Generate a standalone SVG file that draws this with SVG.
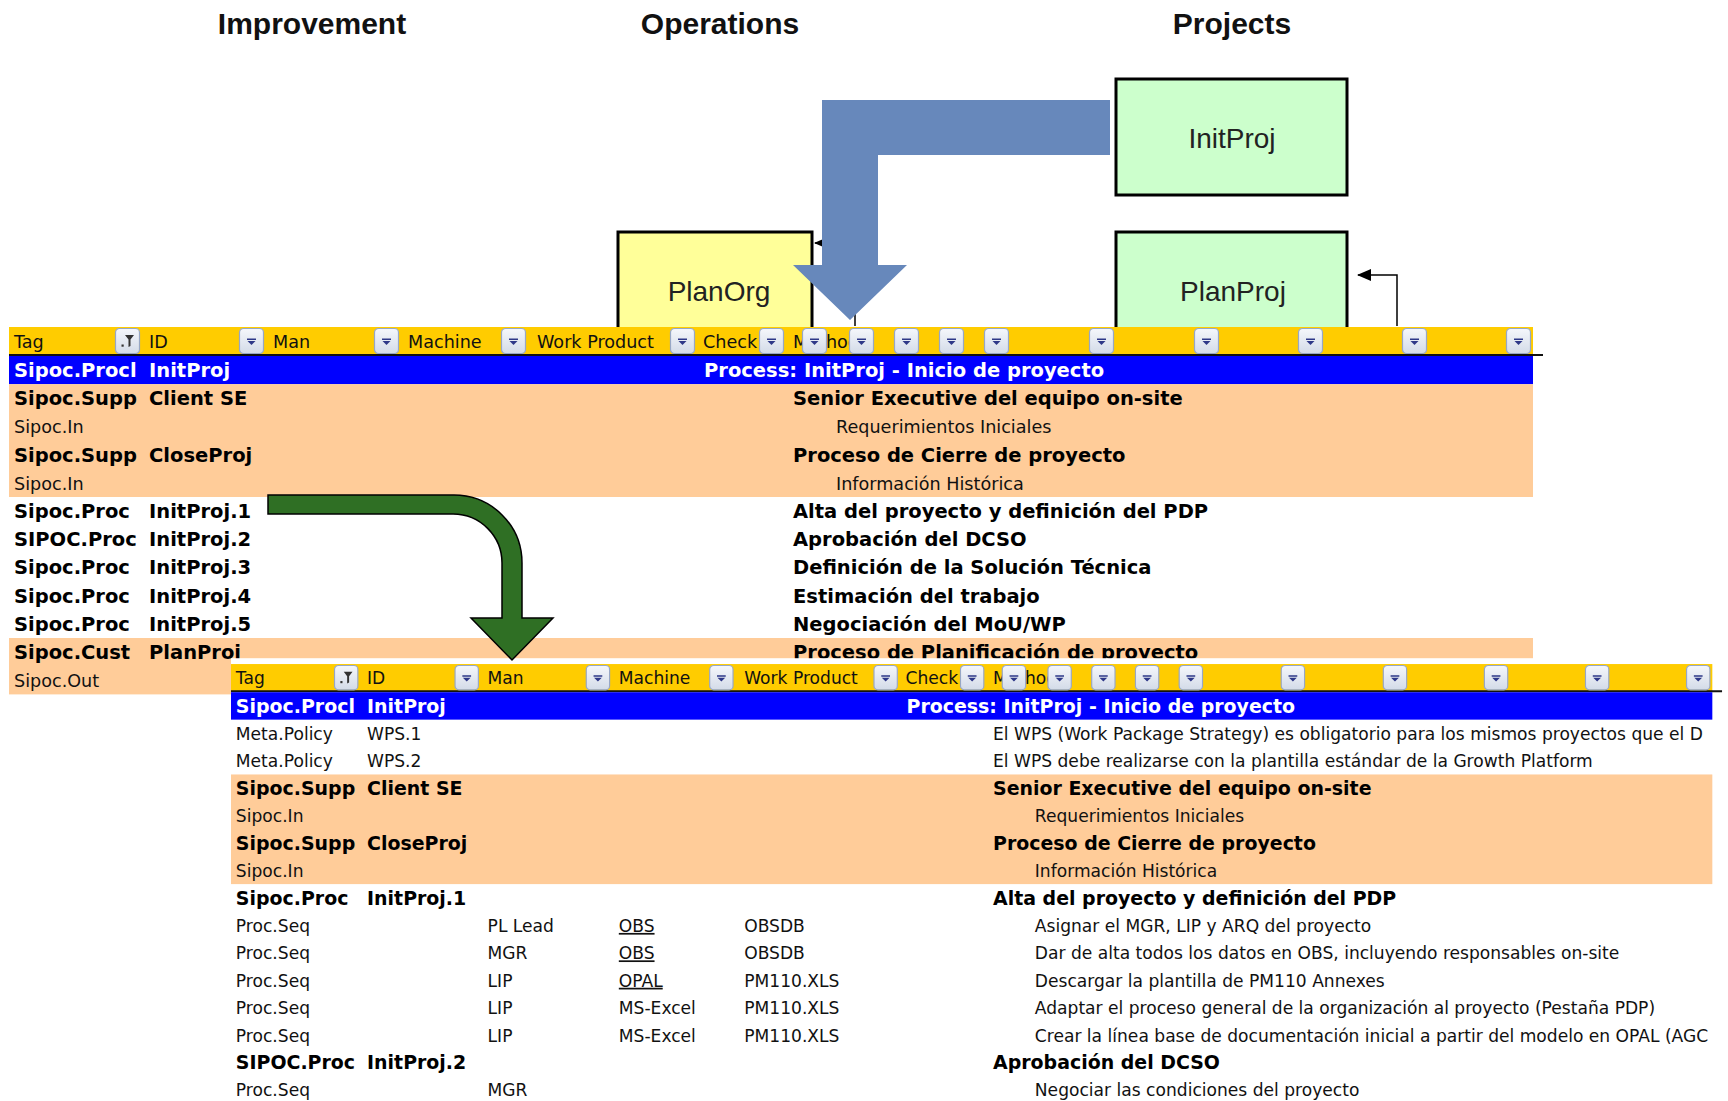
<svg xmlns="http://www.w3.org/2000/svg" xmlns:xlink="http://www.w3.org/1999/xlink" width="1728" height="1101" viewBox="0 0 1728 1101">
<style>
.ttl{font-family:"Liberation Sans",Arial,sans-serif;font-weight:bold;font-size:30px;fill:#111;text-anchor:middle}
.lbl{font-family:"Liberation Sans",Arial,sans-serif;font-size:28px;fill:#222;text-anchor:middle}
.box{stroke:#000;stroke-width:3}
.b{font-family:"DejaVu Sans",Verdana,sans-serif;font-weight:bold;font-size:19.5px;fill:#000}
.r{font-family:"DejaVu Sans",Verdana,sans-serif;font-size:17.6px;fill:#111}
.w{fill:#fff}
.u{text-decoration:underline}
.hdr{fill:#FFCC00}
.blue{fill:#0000FF}
.peach{fill:#FFCC99}
.thin{fill:none;stroke:#000;stroke-width:1.5}
</style>
<defs>
<linearGradient id="bg" x1="0" y1="0" x2="0" y2="1">
<stop offset="0" stop-color="#F5F7FB"/>
<stop offset="1" stop-color="#D3DBE8"/>
</linearGradient>
<g id="btn">
<rect x="0.5" y="0.5" width="24" height="25" rx="4" fill="url(#bg)" stroke="#97A7C5" stroke-width="1.2"/>
<path d="M8,10.5h9v1.6h-9z M8.5,13h8l-4,4z" fill="#2E3888"/>
</g>
<g id="fbtn">
<rect x="0.5" y="0.5" width="24" height="25" rx="4" fill="url(#bg)" stroke="#97A7C5" stroke-width="1.2"/>
<path d="M10,7h9l-3.5,4.5v6.5l-2,1v-7.5z" fill="#333"/>
<rect x="6.5" y="16.5" width="2.2" height="2.2" fill="#333"/>
</g>
<marker id="ah" viewBox="0 0 14 12" refX="13" refY="6" markerWidth="14" markerHeight="12" markerUnits="userSpaceOnUse" orient="auto">
<path d="M0,0 L14,6 L0,12 z" fill="#000"/>
</marker>
</defs>
<rect x="0" y="0" width="1728" height="1101" fill="#fff"/>

<g id="lanes">
<text class="ttl" x="312" y="34">Improvement</text>
<text class="ttl" x="720" y="34">Operations</text>
<text class="ttl" x="1232" y="34">Projects</text>
</g>

<g id="node-InitProj">
<rect class="box" x="1116" y="79" width="231" height="116" fill="#CCFFCC"/>
<text class="lbl" x="1232" y="148">InitProj</text>
</g>
<g id="node-PlanProj">
<rect class="box" x="1116" y="232" width="231" height="110" fill="#CCFFCC"/>
<text class="lbl" x="1233" y="301">PlanProj</text>
</g>
<g id="node-PlanOrg">
<rect class="box" x="618" y="232" width="194" height="110" fill="#FFFF99"/>
<text class="lbl" x="719" y="301">PlanOrg</text>
</g>

<g id="table1">
<rect class="hdr" x="9" y="327" width="1524" height="28"/>
<line x1="9" y1="355" x2="1543" y2="355" stroke="#111" stroke-width="2"/>
<rect class="blue" x="9" y="356" width="1524" height="28.2"/>
<rect class="peach" x="9" y="384.2" width="1524" height="112.8"/>
<rect class="peach" x="9" y="638" width="1524" height="56.4"/>
<g class="r">
<text x="14" y="348">Tag</text><text x="149" y="348">ID</text><text x="273" y="348">Man</text><text x="408" y="348">Machine</text><text x="537" y="348">Work Product</text><text x="703" y="348">Check</text><text x="793" y="348">Method</text>
</g>
<use xlink:href="#fbtn" x="115" y="328"/>
<use xlink:href="#btn" x="239" y="328"/><use xlink:href="#btn" x="374" y="328"/><use xlink:href="#btn" x="501" y="328"/><use xlink:href="#btn" x="670" y="328"/><use xlink:href="#btn" x="759" y="328"/><use xlink:href="#btn" x="802" y="328"/><use xlink:href="#btn" x="849" y="328"/><use xlink:href="#btn" x="894" y="328"/><use xlink:href="#btn" x="939" y="328"/><use xlink:href="#btn" x="984" y="328"/><use xlink:href="#btn" x="1089" y="328"/><use xlink:href="#btn" x="1194" y="328"/><use xlink:href="#btn" x="1298" y="328"/><use xlink:href="#btn" x="1402" y="328"/><use xlink:href="#btn" x="1506" y="328"/>
<text class="b w" x="14" y="377">Sipoc.Procl</text><text class="b w" x="149" y="377">InitProj</text><text class="b w" x="704" y="377">Process: InitProj - Inicio de proyecto</text>
<text class="b" x="14" y="405.2">Sipoc.Supp</text><text class="b" x="149" y="405.2">Client SE</text><text class="b" x="793" y="405.2">Senior Executive del equipo on-site</text>
<text class="r" x="14" y="433.4">Sipoc.In</text><text class="r" x="836" y="433.4">Requerimientos Iniciales</text>
<text class="b" x="14" y="461.6">Sipoc.Supp</text><text class="b" x="149" y="461.6">CloseProj</text><text class="b" x="793" y="461.6">Proceso de Cierre de proyecto</text>
<text class="r" x="14" y="489.8">Sipoc.In</text><text class="r" x="836" y="489.8">Información Histórica</text>
<text class="b" x="14" y="518">Sipoc.Proc</text><text class="b" x="149" y="518">InitProj.1</text><text class="b" x="793" y="518">Alta del proyecto y definición del PDP</text>
<text class="b" x="14" y="546.2">SIPOC.Proc</text><text class="b" x="149" y="546.2">InitProj.2</text><text class="b" x="793" y="546.2">Aprobación del DCSO</text>
<text class="b" x="14" y="574.4">Sipoc.Proc</text><text class="b" x="149" y="574.4">InitProj.3</text><text class="b" x="793" y="574.4">Definición de la Solución Técnica</text>
<text class="b" x="14" y="602.6">Sipoc.Proc</text><text class="b" x="149" y="602.6">InitProj.4</text><text class="b" x="793" y="602.6">Estimación del trabajo</text>
<text class="b" x="14" y="630.8">Sipoc.Proc</text><text class="b" x="149" y="630.8">InitProj.5</text><text class="b" x="793" y="630.8">Negociación del MoU/WP</text>
<text class="b" x="14" y="659">Sipoc.Cust</text><text class="b" x="149" y="659">PlanProj</text><text class="b" x="793" y="659">Proceso de Planificación de proyecto</text>
<text class="r" x="14" y="687.2">Sipoc.Out</text>
</g>

<g id="table2" transform="translate(222.25,346.2) scale(0.972)">
<rect x="9" y="321" width="1560" height="470" fill="#fff"/>
<rect class="hdr" x="9" y="327" width="1524" height="28"/>
<line x1="9" y1="355" x2="1543" y2="355" stroke="#111" stroke-width="2"/>
<rect class="blue" x="9" y="356" width="1524" height="28.2"/>
<rect class="peach" x="9" y="440.6" width="1524" height="112.8"/>
<g class="r">
<text x="14" y="348">Tag</text><text x="149" y="348">ID</text><text x="273" y="348">Man</text><text x="408" y="348">Machine</text><text x="537" y="348">Work Product</text><text x="703" y="348">Check</text><text x="793" y="348">Method</text>
</g>
<use xlink:href="#fbtn" x="115" y="328"/>
<use xlink:href="#btn" x="239" y="328"/><use xlink:href="#btn" x="374" y="328"/><use xlink:href="#btn" x="501" y="328"/><use xlink:href="#btn" x="670" y="328"/><use xlink:href="#btn" x="759" y="328"/><use xlink:href="#btn" x="802" y="328"/><use xlink:href="#btn" x="849" y="328"/><use xlink:href="#btn" x="894" y="328"/><use xlink:href="#btn" x="939" y="328"/><use xlink:href="#btn" x="984" y="328"/><use xlink:href="#btn" x="1089" y="328"/><use xlink:href="#btn" x="1194" y="328"/><use xlink:href="#btn" x="1298" y="328"/><use xlink:href="#btn" x="1402" y="328"/><use xlink:href="#btn" x="1506" y="328"/>
<text class="b w" x="14" y="377">Sipoc.Procl</text><text class="b w" x="149" y="377">InitProj</text><text class="b w" x="704" y="377">Process: InitProj - Inicio de proyecto</text>
<text class="r" x="14" y="405.2">Meta.Policy</text><text class="r" x="149" y="405.2">WPS.1</text><text class="r" x="793" y="405.2">El WPS (Work Package Strategy) es obligatorio para los mismos proyectos que el D</text>
<text class="r" x="14" y="433.4">Meta.Policy</text><text class="r" x="149" y="433.4">WPS.2</text><text class="r" x="793" y="433.4">El WPS debe realizarse con la plantilla estándar de la Growth Platform</text>
<text class="b" x="14" y="461.6">Sipoc.Supp</text><text class="b" x="149" y="461.6">Client SE</text><text class="b" x="793" y="461.6">Senior Executive del equipo on-site</text>
<text class="r" x="14" y="489.8">Sipoc.In</text><text class="r" x="836" y="489.8">Requerimientos Iniciales</text>
<text class="b" x="14" y="518">Sipoc.Supp</text><text class="b" x="149" y="518">CloseProj</text><text class="b" x="793" y="518">Proceso de Cierre de proyecto</text>
<text class="r" x="14" y="546.2">Sipoc.In</text><text class="r" x="836" y="546.2">Información Histórica</text>
<text class="b" x="14" y="574.4">Sipoc.Proc</text><text class="b" x="149" y="574.4">InitProj.1</text><text class="b" x="793" y="574.4">Alta del proyecto y definición del PDP</text>
<text class="r" x="14" y="602.6">Proc.Seq</text><text class="r" x="273" y="602.6">PL Lead</text><text class="r u" x="408" y="602.6">OBS</text><text class="r" x="537" y="602.6">OBSDB</text><text class="r" x="836" y="602.6">Asignar el MGR, LIP y ARQ del proyecto</text>
<text class="r" x="14" y="630.8">Proc.Seq</text><text class="r" x="273" y="630.8">MGR</text><text class="r u" x="408" y="630.8">OBS</text><text class="r" x="537" y="630.8">OBSDB</text><text class="r" x="836" y="630.8">Dar de alta todos los datos en OBS, incluyendo responsables on-site</text>
<text class="r" x="14" y="659">Proc.Seq</text><text class="r" x="273" y="659">LIP</text><text class="r u" x="408" y="659">OPAL</text><text class="r" x="537" y="659">PM110.XLS</text><text class="r" x="836" y="659">Descargar la plantilla de PM110 Annexes</text>
<text class="r" x="14" y="687.2">Proc.Seq</text><text class="r" x="273" y="687.2">LIP</text><text class="r" x="408" y="687.2">MS-Excel</text><text class="r" x="537" y="687.2">PM110.XLS</text><text class="r" x="836" y="687.2">Adaptar el proceso general de la organización al proyecto (Pestaña PDP)</text>
<text class="r" x="14" y="715.4">Proc.Seq</text><text class="r" x="273" y="715.4">LIP</text><text class="r" x="408" y="715.4">MS-Excel</text><text class="r" x="537" y="715.4">PM110.XLS</text><text class="r" x="836" y="715.4">Crear la línea base de documentación inicial a partir del modelo en OPAL (AGC</text>
<text class="b" x="14" y="743.6">SIPOC.Proc</text><text class="b" x="149" y="743.6">InitProj.2</text><text class="b" x="793" y="743.6">Aprobación del DCSO</text>
<text class="r" x="14" y="771.8">Proc.Seq</text><text class="r" x="273" y="771.8">MGR</text><text class="r" x="836" y="771.8">Negociar las condiciones del proyecto</text>
</g>

<g id="connectors">
<path class="thin" d="M855,326 V243 H815" marker-end="url(#ah)"/>
<path class="thin" d="M1397,326 V275 H1358" marker-end="url(#ah)"/>
<path d="M1110,100 H822 V265 H793 L850,320 L907,265 H878 V155 H1110 Z" fill="#6788BB"/>
<path d="M268,495 H454 A68,68 0 0 1 522,563 V618 H553 L512,660 L471,618 H502 V563 A49,49 0 0 0 453,514 H268 Z" fill="#2F6F24" stroke="#000" stroke-width="1.5"/>
</g>
</svg>
